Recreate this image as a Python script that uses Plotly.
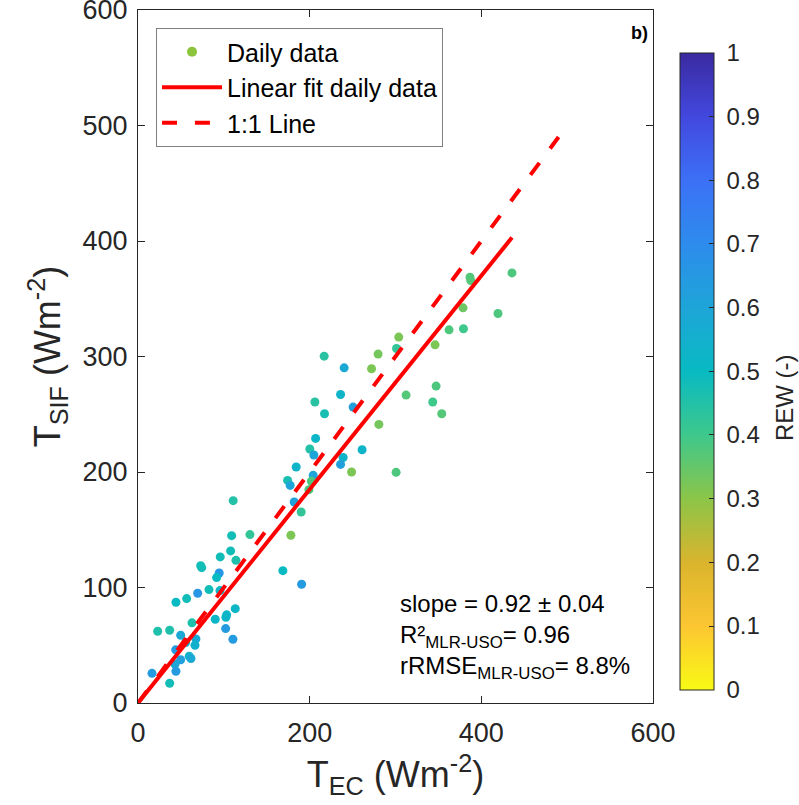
import plotly.graph_objects as go

# ---- data ----
t_ec = [110.9, 109.1, 130.4, 107.9, 95.8, 114.1, 73.0, 74.2, 94.6, 91.6,
        82.7, 95.5, 69.5, 56.7, 44.2, 62.9, 90.0, 103.3, 102.4, 113.3,
        102.1, 110.6, 22.9, 36.9, 49.7, 67.5, 55.5, 66.4, 43.9, 59.7,
        61.7, 49.7, 43.1, 44.2, 16.3, 36.9,
        216.9, 240.2, 236.0, 206.1, 217.3, 250.6, 206.9, 200.2, 204.9, 239.0,
        236.0, 184.3, 174.3, 177.3, 204.1, 202.0, 199.1, 248.8, 182.0, 190.1,
        178.1, 168.8, 190.6, 261.1, 280.6, 300.7, 312.3, 347.3, 343.4, 353.9,
        272.1, 279.7, 301.2, 303.8, 346.1, 362.4, 379.2, 378.7, 386.8, 387.7,
        419.4, 435.7]
t_sif = [175.2, 144.9, 145.8, 131.7, 126.5, 123.5, 118.9, 117.2, 112.6, 108.6,
         98.2, 97.3, 95.0, 90.4, 87.2, 69.4, 72.5, 76.3, 74.2, 81.7,
         64.4, 55.2, 62.1, 63.0, 58.7, 55.5, 52.3, 50.0, 46.0, 40.5,
         38.5, 37.4, 33.6, 27.5, 25.7, 17.1,
         300.3, 290.2, 267.1, 260.6, 250.4, 256.2, 229.1, 219.9, 214.7, 212.6,
         206.6, 204.3, 192.7, 188.4, 197.1, 192.0, 184.7, 200.0, 174.0, 165.4,
         145.2, 114.6, 102.8, 219.3, 241.2, 199.7, 266.6, 274.4, 260.6, 250.4,
         289.4, 302.1, 306.9, 316.8, 310.1, 323.1, 324.0, 342.1, 368.7, 365.7,
         337.2, 372.4]
rew = [0.45, 0.48, 0.42, 0.48, 0.48, 0.46, 0.48, 0.48, 0.66, 0.50,
       0.48, 0.52, 0.66, 0.48, 0.50, 0.46, 0.52, 0.52, 0.52, 0.52,
       0.64, 0.64, 0.46, 0.46, 0.58, 0.58, 0.55, 0.55, 0.64, 0.54,
       0.58, 0.62, 0.60, 0.64, 0.64, 0.48,
       0.44, 0.58, 0.53, 0.44, 0.47, 0.62, 0.52, 0.45, 0.60, 0.53,
       0.62, 0.53, 0.47, 0.60, 0.60, 0.38, 0.38, 0.32, 0.62, 0.42,
       0.32, 0.50, 0.64, 0.53, 0.33, 0.38, 0.37, 0.38, 0.40, 0.37,
       0.32, 0.33, 0.42, 0.32, 0.32, 0.38, 0.40, 0.34, 0.37, 0.37,
       0.38, 0.38]

fit_slope = 0.925
fit_x = [0, 435.7]
one_to_one = [0, 490]

axis_ticks = [0, 100, 200, 300, 400, 500, 600]
x_ticks = [0, 200, 400, 600]
cbar_ticks = [0, 0.1, 0.2, 0.3, 0.4, 0.5, 0.6, 0.7, 0.8, 0.9, 1]
cbar_text = ["0", "0.1", "0.2", "0.3", "0.4", "0.5", "0.6", "0.7", "0.8", "0.9", "1"]

# reversed parula-like colour scale (REW 0 = yellow, 1 = dark blue)
rew_scale = [
    [0.0, "rgb(248,250,20)"],
    [0.1, "rgb(252,198,50)"],
    [0.2, "rgb(218,180,45)"],
    [0.3, "rgb(140,197,72)"],
    [0.4, "rgb(62,200,140)"],
    [0.5, "rgb(8,186,194)"],
    [0.6, "rgb(30,165,216)"],
    [0.7, "rgb(45,140,236)"],
    [0.8, "rgb(60,112,246)"],
    [0.9, "rgb(66,72,222)"],
    [1.0, "rgb(58,42,160)"],
]

TXT = "#262626"
FONT = "Liberation Sans, Arial, sans-serif"

fig = go.Figure()

fig.add_trace(go.Scatter(
    x=t_ec, y=t_sif, mode="markers", showlegend=False,
    marker=dict(size=9, color=rew, cmin=0, cmax=1, colorscale=rew_scale,
                line=dict(width=0),
                colorbar=dict(
                    x=1.0533, xanchor="left", xref="paper",
                    y=0.4787, yanchor="middle", len=0.9185, lenmode="fraction",
                    ypad=0, xpad=0,
                    thickness=34, thicknessmode="pixels",
                    outlinewidth=1, outlinecolor=TXT,
                    tickvals=cbar_ticks,
                    ticktext=["\u00a0" + t for t in cbar_text],
                    ticks="inside", ticklen=5, tickcolor=TXT,
                    tickfont=dict(size=24, color=TXT, family=FONT),
                )),
))

# legend proxy for the scatter
fig.add_trace(go.Scatter(
    x=[None], y=[None], mode="markers", name="Daily data",
    marker=dict(size=10, color="rgb(140,197,60)"),
))

fig.add_trace(go.Scatter(
    x=fit_x, y=[v * fit_slope for v in fit_x], mode="lines",
    name="Linear fit daily data", line=dict(color="#ff0000", width=4),
))
fig.add_trace(go.Scatter(
    x=one_to_one, y=one_to_one, mode="lines", name="1:1 Line",
    line=dict(color="#ff0000", width=4, dash="15px,17.9px"),
))

axis_common = dict(
    range=[0, 600], showgrid=False, zeroline=False,
    showline=True, linecolor=TXT, linewidth=1, mirror="ticks",
    ticks="inside", ticklen=7, tickcolor=TXT,
    tickfont=dict(size=27, color=TXT, family=FONT),
    ticklabeloverflow="allow", automargin=False,
)

fig.update_xaxes(**axis_common, tickvals=x_ticks, ticklabelstandoff=6,
                 title=dict(text="T<sub>EC</sub> (Wm<sup>-2</sup>)",
                            font=dict(size=36, color=TXT, family=FONT),
                            standoff=14))
fig.update_yaxes(**axis_common, tickvals=axis_ticks, ticklabelstandoff=4,
                 title=dict(text="T<sub>SIF</sub> (Wm<sup>-2</sup>)",
                            font=dict(size=36, color=TXT, family=FONT),
                            standoff=10))

fig.add_annotation(
    x=303, y=100, xref="x", yref="y", xanchor="left", yanchor="top",
    align="left", showarrow=False,
    text="slope = 0.92 ± 0.04<br>R²<sub>MLR-USO</sub>= 0.96<br>rRMSE<sub>MLR-USO</sub>= 8.8%",
    font=dict(size=24, color="#000000", family=FONT),
)
fig.add_annotation(
    x=596, y=580, xref="x", yref="y", xanchor="right", yanchor="middle",
    showarrow=False, text="<b>b)</b>",
    font=dict(size=18, color="#000000", family=FONT),
)
# colour bar title
fig.add_annotation(
    x=1.2551, y=0.4405, xref="paper", yref="paper", xanchor="center", yanchor="middle",
    showarrow=False, text="REW (-)", textangle=-90,
    font=dict(size=24, color=TXT, family=FONT),
)

fig.update_layout(
    width=799, height=805,
    margin=dict(l=138, r=145.5, t=10, b=101.5, autoexpand=False),
    paper_bgcolor="white", plot_bgcolor="white",
    font=dict(family=FONT, color=TXT),
    legend=dict(x=0.035, y=0.974, xanchor="left", yanchor="top",
                bgcolor="white", bordercolor="#808080", borderwidth=1,
                font=dict(size=25, color="#000000", family=FONT),
                tracegroupgap=0, itemwidth=60),
)

fig.write_html("out.html")
